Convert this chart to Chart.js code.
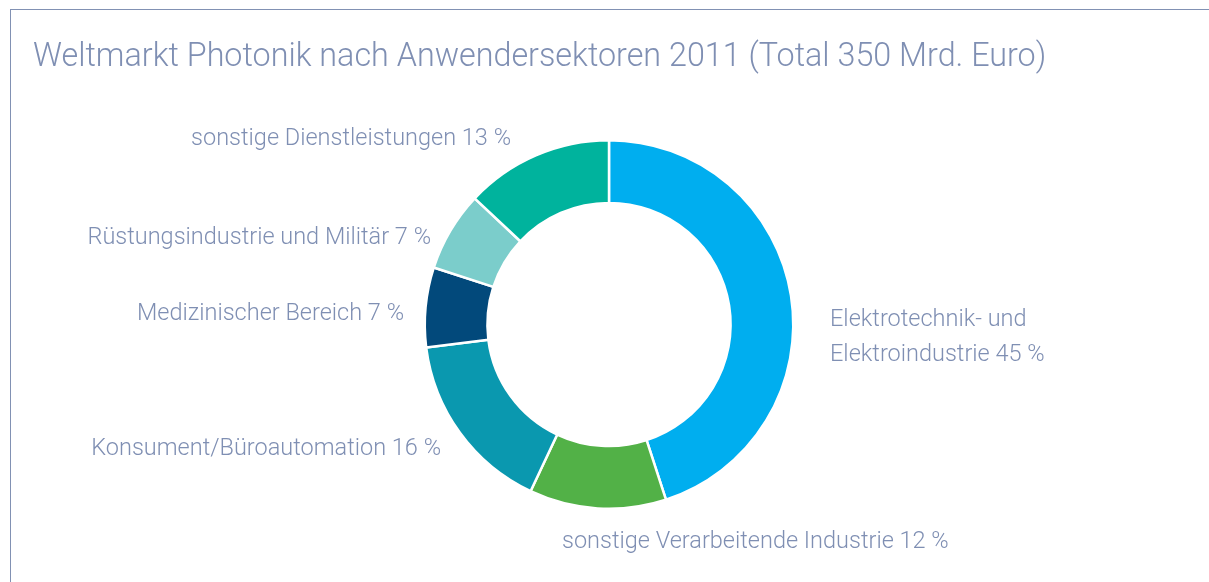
<!DOCTYPE html>
<html>
<head>
<meta charset="utf-8">
<script src="https://cdn.jsdelivr.net/npm/chart.js@4/dist/chart.umd.min.js"></script>
<style>
  html, body { margin: 0; padding: 0; background: #fff; }
  #wrap { position: relative; width: 1209px; height: 582px; }
  #frame {
    position: absolute; left: 10px; top: 9px; right: 0; bottom: 0;
    border-top: 1px solid #8191b3; border-left: 1px solid #8191b3;
  }
  canvas { position: absolute; left: 0; top: 0; }
</style>
</head>
<body>
<div id="wrap">
  <div id="frame"></div>
  <canvas id="photonikChart" width="1209" height="582"></canvas>
</div>
<script>
// Chart data
const chartTitle = 'Weltmarkt Photonik nach Anwendersektoren 2011 (Total 350 Mrd. Euro)';
const sectorLabels = [
    ['Elektrotechnik- und', 'Elektroindustrie 45 %'],
    ['sonstige Verarbeitende Industrie 12 %'],
    ['Konsument/Büroautomation 16 %'],
    ['Medizinischer Bereich 7 %'],
    ['Rüstungsindustrie und Militär 7 %'],
    ['sonstige Dienstleistungen 13 %']
];
const sectorShares = [45, 12, 16, 7, 7, 13];
const sectorColors = ['#00aeef', '#52b147', '#0a98af', '#02497b', '#7bcdcb', '#00b39d'];

const textColor = '#7f8fb3';

// label placement, offsets from the doughnut centre (px)
const labelLayout = [
    { dx: 221, dy: -4, align: 'left' },
    { dx: -47, dy: 218, align: 'left' },
    { dx: -168, dy: 125, align: 'right' },
    { dx: -205, dy: -10, align: 'right' },
    { dx: -178, dy: -86, align: 'right' },
    { dx: -98, dy: -185, align: 'right' }
];

// Draws title and the sector labels
const labelPlugin = {
    id: 'sectorLabels',
    afterDraw(chart) {
        const ctx = chart.ctx;
        const arc = chart.getDatasetMeta(0).data[0];
        const cx = arc.x;
        const cy = arc.y;
        ctx.save();
        ctx.fillStyle = textColor;

        ctx.font = '300 32.3px Roboto';
        ctx.textAlign = 'left';
        ctx.textBaseline = 'alphabetic';
        ctx.fillText(chartTitle, 33, 66);

        ctx.font = '300 23.5px Roboto';
        ctx.textBaseline = 'middle';
        sectorLabels.forEach((lines, i) => {
            const pos = labelLayout[i];
            ctx.textAlign = pos.align;
            lines.forEach((line, j) => {
                ctx.fillText(line, cx + pos.dx, cy + pos.dy + j * 35);
            });
        });
        ctx.restore();
    }
};

const ctx = document.getElementById('photonikChart').getContext('2d');
new Chart(ctx, {
    type: 'doughnut',
    data: {
        labels: sectorLabels.map(l => l.join(' ')),
        datasets: [{
            data: sectorShares,
            backgroundColor: sectorColors,
            borderColor: '#ffffff',
            borderWidth: 2.5
        }]
    },
    options: {
        responsive: false,
        animation: false,
        cutout: '66%',
        layout: { padding: { top: 139, bottom: 72, left: 9, right: 0 } },
        plugins: {
            legend: { display: false },
            tooltip: { enabled: false },
            title: { display: false }
        }
    },
    plugins: [labelPlugin]
});
</script>
</body>
</html>
